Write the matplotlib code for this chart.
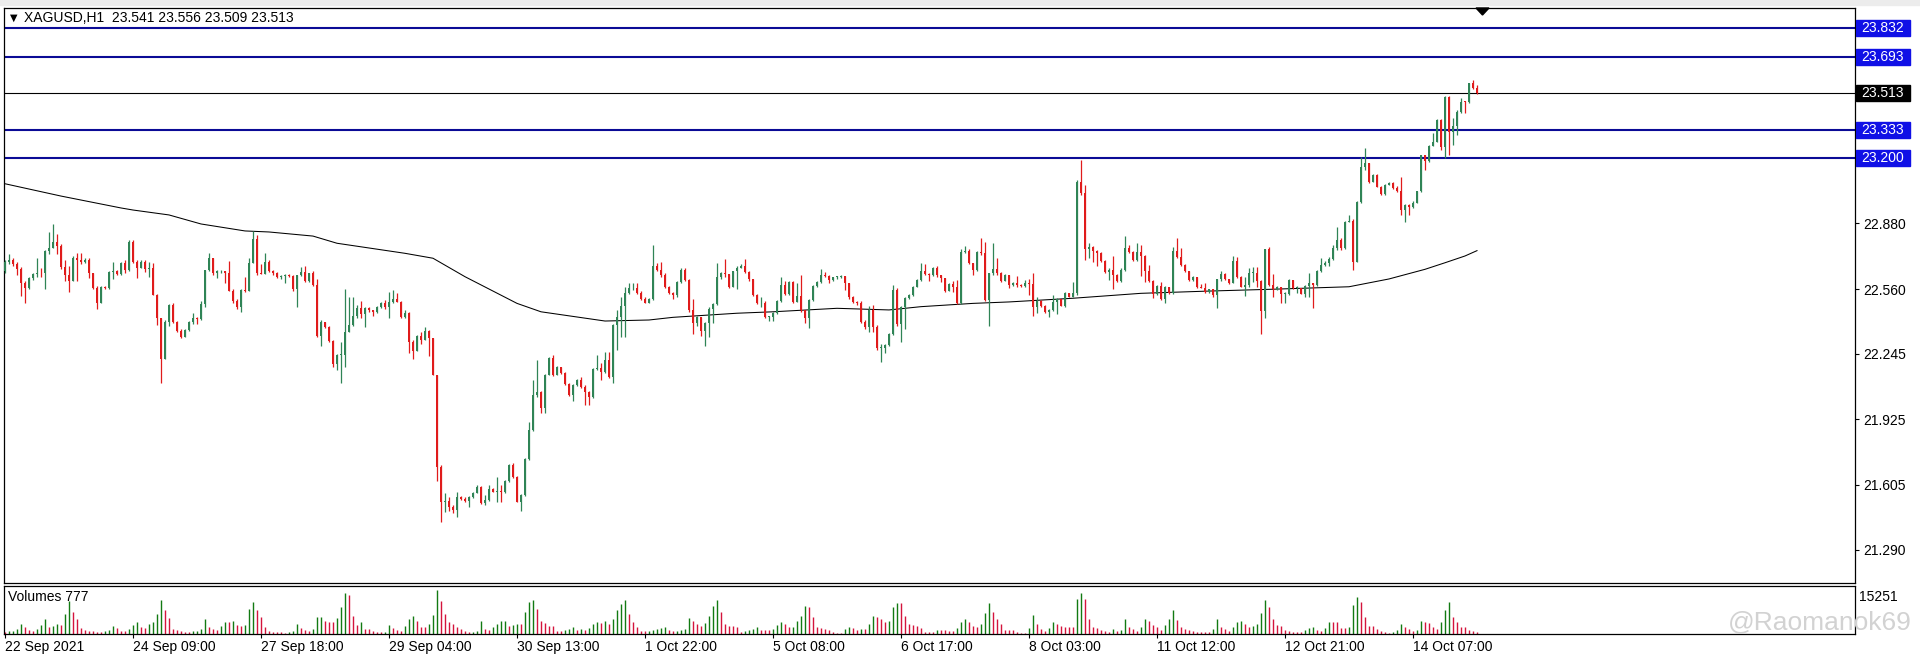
import matplotlib
matplotlib.use("Agg")
import matplotlib.pyplot as plt
from matplotlib.patches import Rectangle, Polygon
import numpy as np

plt.rcParams['font.family'] = ['Liberation Sans', 'DejaVu Sans']

# ---- data (XAGUSD H1) ----
first_open = 22.65

closes = [
    22.69, 22.70, 22.68, 22.656, 22.59, 22.563, 22.612, 22.633, 22.64, 22.636,
    22.747, 22.76, 22.79, 22.772, 22.669, 22.63, 22.60, 22.71, 22.70, 22.69,
    22.70, 22.636, 22.566, 22.493, 22.571, 22.565, 22.644, 22.648, 22.632, 22.685,
    22.653, 22.791, 22.693, 22.66, 22.693, 22.656, 22.66, 22.531, 22.417, 22.219,
    22.401, 22.482, 22.401, 22.357, 22.328, 22.36, 22.40, 22.42, 22.415, 22.487,
    22.653, 22.709, 22.636, 22.646, 22.648, 22.636, 22.551, 22.50, 22.474, 22.555,
    22.55, 22.688, 22.802, 22.64, 22.635, 22.693, 22.65, 22.636, 22.62, 22.624,
    22.628, 22.625, 22.558, 22.628, 22.645, 22.599, 22.638, 22.58, 22.33, 22.40,
    22.374, 22.307, 22.195, 22.24, 22.24, 22.352, 22.385, 22.429, 22.466, 22.44,
    22.466, 22.458, 22.45, 22.47, 22.49, 22.47, 22.498, 22.51, 22.498, 22.425,
    22.445, 22.303, 22.26, 22.331, 22.312, 22.357, 22.32, 22.141, 21.694, 21.524,
    21.525, 21.50, 21.483, 21.548, 21.536, 21.529, 21.545, 21.568, 21.594, 21.516,
    21.532, 21.584, 21.573, 21.578, 21.57, 21.626, 21.702, 21.646, 21.524, 21.556,
    21.73, 21.873, 22.044, 22.06, 21.979, 22.141, 22.226, 22.141, 22.181, 22.149,
    22.097, 22.044, 22.092, 22.117, 22.084, 22.06, 22.035, 22.169, 22.174, 22.157,
    22.214, 22.13, 22.385, 22.422, 22.477, 22.539, 22.563, 22.567, 22.539, 22.51,
    22.494, 22.51, 22.672, 22.653, 22.628, 22.571, 22.54, 22.531, 22.592, 22.653,
    22.604, 22.458, 22.393, 22.422, 22.357, 22.396, 22.463, 22.487, 22.617, 22.64,
    22.631, 22.572, 22.648, 22.664, 22.674, 22.644, 22.607, 22.531, 22.49, 22.494,
    22.425, 22.425, 22.445, 22.50, 22.58, 22.536, 22.596, 22.498, 22.526, 22.458,
    22.417, 22.506, 22.575, 22.596, 22.628, 22.624, 22.604, 22.617, 22.62, 22.623,
    22.59, 22.52, 22.498, 22.49, 22.40, 22.373, 22.46, 22.376, 22.271, 22.271,
    22.287, 22.341, 22.555, 22.39, 22.47, 22.514, 22.53, 22.571, 22.604, 22.649,
    22.633, 22.628, 22.66, 22.628, 22.612, 22.552, 22.584, 22.571, 22.49, 22.742,
    22.745, 22.688, 22.653, 22.742, 22.734, 22.506, 22.636, 22.656, 22.636, 22.60,
    22.628, 22.58, 22.59, 22.58, 22.575, 22.59, 22.583, 22.474, 22.503, 22.477,
    22.45, 22.46, 22.498, 22.51, 22.477, 22.539, 22.523, 22.539, 23.083, 23.03,
    22.753, 22.763, 22.747, 22.737, 22.696, 22.644, 22.653, 22.628, 22.60, 22.653,
    22.762, 22.742, 22.701, 22.742, 22.721, 22.649, 22.601, 22.536, 22.575, 22.51,
    22.571, 22.539, 22.747, 22.718, 22.677, 22.649, 22.604, 22.62, 22.568, 22.566,
    22.547, 22.558, 22.531, 22.607, 22.633, 22.607, 22.59, 22.696, 22.62, 22.571,
    22.58, 22.64, 22.64, 22.60, 22.454, 22.753, 22.58, 22.558, 22.57, 22.536,
    22.536, 22.604, 22.564, 22.564, 22.536, 22.575, 22.587, 22.58, 22.649, 22.677,
    22.688, 22.705, 22.758, 22.799, 22.758, 22.888, 22.893, 22.693, 22.986, 23.156,
    23.172, 23.083, 23.116, 23.059, 23.023, 23.067, 23.075, 23.051, 23.039, 22.945,
    22.969, 22.958, 22.981, 23.039, 23.213, 23.186, 23.257, 23.278, 23.384, 23.254,
    23.497, 23.327, 23.354, 23.424, 23.473, 23.470, 23.562, 23.541, 23.513,
]

highs = [
    22.70, 22.73, 22.71, 22.69, 22.665, 22.60, 22.62, 22.64, 22.71, 22.66,
    22.75, 22.836, 22.875, 22.826, 22.78, 22.70, 22.67, 22.72, 22.735, 22.735,
    22.71, 22.71, 22.64, 22.575, 22.575, 22.575, 22.65, 22.69, 22.655, 22.69,
    22.70, 22.80, 22.80, 22.70, 22.70, 22.70, 22.69, 22.685, 22.535, 22.42,
    22.41, 22.485, 22.49, 22.405, 22.365, 22.365, 22.405, 22.445, 22.425, 22.50,
    22.655, 22.737, 22.71, 22.655, 22.655, 22.65, 22.696, 22.56, 22.51, 22.56,
    22.62, 22.71, 22.844, 22.822, 22.68, 22.734, 22.70, 22.655, 22.645, 22.628,
    22.635, 22.635, 22.63, 22.63, 22.665, 22.67, 22.64, 22.65, 22.61, 22.41,
    22.40, 22.38, 22.31, 22.245, 22.30, 22.559, 22.523, 22.52, 22.48, 22.50,
    22.47, 22.474, 22.46, 22.475, 22.495, 22.507, 22.547, 22.555, 22.539, 22.50,
    22.458, 22.45, 22.31, 22.335, 22.352, 22.373, 22.36, 22.32, 22.141, 21.702,
    21.564, 21.548, 21.508, 21.573, 21.553, 21.545, 21.55, 21.572, 21.605, 21.60,
    21.556, 21.605, 21.59, 21.646, 21.605, 21.63, 21.705, 21.71, 21.65, 21.56,
    21.735, 21.914, 22.117, 22.214, 22.065, 22.145, 22.23, 22.238, 22.185, 22.17,
    22.155, 22.10, 22.095, 22.12, 22.133, 22.09, 22.065, 22.175, 22.238, 22.20,
    22.255, 22.255, 22.39, 22.46, 22.523, 22.57, 22.588, 22.588, 22.588, 22.55,
    22.52, 22.515, 22.775, 22.685, 22.69, 22.64, 22.575, 22.545, 22.60, 22.664,
    22.66, 22.61, 22.51, 22.43, 22.425, 22.40, 22.47, 22.49, 22.688, 22.645,
    22.705, 22.635, 22.65, 22.67, 22.68, 22.705, 22.65, 22.61, 22.535, 22.52,
    22.50, 22.43, 22.45, 22.505, 22.617, 22.60, 22.60, 22.60, 22.59, 22.628,
    22.46, 22.51, 22.58, 22.60, 22.656, 22.645, 22.63, 22.62, 22.625, 22.628,
    22.625, 22.59, 22.525, 22.50, 22.50, 22.41, 22.478, 22.48, 22.385, 22.29,
    22.29, 22.345, 22.58, 22.565, 22.475, 22.52, 22.535, 22.575, 22.61, 22.685,
    22.682, 22.64, 22.665, 22.672, 22.63, 22.615, 22.59, 22.60, 22.605, 22.753,
    22.77, 22.755, 22.672, 22.745, 22.807, 22.791, 22.64, 22.782, 22.71, 22.645,
    22.635, 22.63, 22.595, 22.623, 22.585, 22.604, 22.61, 22.64, 22.523, 22.505,
    22.48, 22.465, 22.53, 22.515, 22.51, 22.547, 22.542, 22.596, 23.09, 23.189,
    23.067, 22.783, 22.77, 22.75, 22.74, 22.70, 22.66, 22.72, 22.635, 22.66,
    22.818, 22.775, 22.745, 22.786, 22.775, 22.725, 22.677, 22.605, 22.58, 22.596,
    22.575, 22.565, 22.767, 22.81, 22.758, 22.68, 22.65, 22.625, 22.62, 22.585,
    22.59, 22.56, 22.556, 22.61, 22.65, 22.64, 22.61, 22.72, 22.714, 22.625,
    22.62, 22.66, 22.666, 22.666, 22.605, 22.755, 22.766, 22.633, 22.575, 22.57,
    22.545, 22.61, 22.605, 22.575, 22.565, 22.58, 22.636, 22.59, 22.655, 22.71,
    22.695, 22.715, 22.775, 22.864, 22.807, 22.89, 22.921, 22.90, 22.99, 23.205,
    23.246, 23.175, 23.12, 23.12, 23.06, 23.07, 23.08, 23.08, 23.06, 23.107,
    22.975, 22.975, 22.99, 23.04, 23.215, 23.215, 23.26, 23.319, 23.39, 23.39,
    23.50, 23.50, 23.392, 23.43, 23.489, 23.478, 23.565, 23.578, 23.556,
]

lows = [
    22.64, 22.68, 22.67, 22.63, 22.525, 22.493, 22.56, 22.605, 22.62, 22.62,
    22.558, 22.73, 22.76, 22.73, 22.657, 22.60, 22.547, 22.60, 22.60, 22.68,
    22.685, 22.615, 22.56, 22.465, 22.49, 22.56, 22.56, 22.607, 22.63, 22.63,
    22.636, 22.65, 22.685, 22.612, 22.66, 22.645, 22.62, 22.53, 22.385, 22.104,
    22.219, 22.38, 22.395, 22.35, 22.32, 22.325, 22.355, 22.39, 22.39, 22.41,
    22.47, 22.65, 22.63, 22.612, 22.64, 22.59, 22.55, 22.49, 22.465, 22.446,
    22.545, 22.55, 22.685, 22.63, 22.635, 22.645, 22.645, 22.63, 22.612, 22.61,
    22.59, 22.62, 22.55, 22.47, 22.625, 22.595, 22.595, 22.575, 22.325, 22.28,
    22.37, 22.30, 22.178, 22.165, 22.10, 22.18, 22.35, 22.38, 22.42, 22.417,
    22.377, 22.45, 22.429, 22.445, 22.466, 22.465, 22.417, 22.49, 22.495, 22.42,
    22.42, 22.25, 22.22, 22.26, 22.292, 22.31, 22.234, 22.14, 21.626, 21.426,
    21.475, 21.48, 21.47, 21.448, 21.53, 21.52, 21.50, 21.54, 21.565, 21.51,
    21.508, 21.527, 21.57, 21.524, 21.524, 21.565, 21.62, 21.64, 21.52, 21.48,
    21.55, 21.725, 21.87, 22.035, 21.954, 21.958, 22.14, 22.135, 22.14, 22.145,
    22.09, 22.04, 22.016, 22.085, 22.08, 21.995, 21.995, 22.03, 22.165, 22.117,
    22.15, 22.125, 22.10, 22.263, 22.327, 22.325, 22.535, 22.555, 22.535, 22.505,
    22.49, 22.49, 22.505, 22.65, 22.62, 22.565, 22.535, 22.51, 22.52, 22.59,
    22.60, 22.45, 22.34, 22.38, 22.33, 22.282, 22.325, 22.393, 22.48, 22.61,
    22.62, 22.565, 22.57, 22.558, 22.66, 22.64, 22.60, 22.525, 22.485, 22.47,
    22.42, 22.405, 22.405, 22.44, 22.495, 22.53, 22.53, 22.49, 22.495, 22.45,
    22.393, 22.368, 22.50, 22.57, 22.59, 22.62, 22.59, 22.60, 22.61, 22.615,
    22.555, 22.51, 22.49, 22.48, 22.395, 22.365, 22.352, 22.35, 22.262, 22.206,
    22.247, 22.28, 22.335, 22.38, 22.30, 22.364, 22.51, 22.525, 22.57, 22.60,
    22.63, 22.60, 22.625, 22.62, 22.596, 22.545, 22.55, 22.546, 22.485, 22.488,
    22.735, 22.68, 22.628, 22.65, 22.725, 22.50, 22.38, 22.63, 22.63, 22.595,
    22.60, 22.563, 22.575, 22.57, 22.57, 22.57, 22.53, 22.43, 22.445, 22.47,
    22.445, 22.425, 22.455, 22.44, 22.475, 22.47, 22.52, 22.52, 22.53, 23.02,
    22.70, 22.71, 22.693, 22.67, 22.69, 22.64, 22.604, 22.558, 22.595, 22.595,
    22.65, 22.735, 22.695, 22.695, 22.623, 22.595, 22.595, 22.515, 22.53, 22.505,
    22.49, 22.535, 22.535, 22.71, 22.67, 22.645, 22.60, 22.60, 22.565, 22.565,
    22.54, 22.54, 22.523, 22.466, 22.60, 22.605, 22.585, 22.59, 22.615, 22.57,
    22.526, 22.57, 22.595, 22.57, 22.341, 22.42, 22.575, 22.52, 22.555, 22.49,
    22.49, 22.53, 22.56, 22.54, 22.535, 22.523, 22.523, 22.466, 22.575, 22.645,
    22.67, 22.673, 22.70, 22.75, 22.75, 22.755, 22.885, 22.653, 22.69, 22.98,
    23.14, 23.075, 23.08, 23.055, 23.02, 23.02, 23.065, 23.045, 23.035, 22.921,
    22.888, 22.92, 22.955, 22.98, 23.035, 23.14, 23.18, 23.255, 23.275, 23.237,
    23.197, 23.213, 23.262, 23.31, 23.42, 23.416, 23.465, 23.535, 23.509,
]

volumes = [
    575, 920, 1150, 1725, 3450, 2300, 1380, 920, 1725, 3220, 5175, 2530, 2875, 3450, 3220, 6900, 11500, 7475, 5175, 2070,
    1380, 1150, 920, 690, 575, 920, 1380, 2875, 2070, 1150, 920, 1725, 3220, 4025, 2530, 2070, 3450, 4025, 6900, 11730,
    8280, 5520, 1725, 1380, 1150, 575, 575, 920, 1150, 1725, 5175, 2300, 1725, 1380, 2875, 4025, 4025, 4370, 3220, 2875,
    3220, 8625, 11155, 8280, 5750, 2300, 1150, 690, 575, 575, 460, 575, 920, 3450, 2070, 1380, 1150, 1725, 5750, 5980,
    4600, 4025, 4025, 5520, 9200, 14030, 13570, 6325, 3220, 4025, 1725, 1725, 920, 575, 575, 690, 3220, 2070, 1380, 920,
    2875, 5175, 6325, 4600, 2530, 2300, 3450, 6670, 15251, 11500, 6900, 4025, 3450, 2530, 1725, 920, 575, 690, 1150, 4600,
    1725, 1380, 2530, 3450, 4370, 4600, 2875, 3220, 3450, 3450, 7475, 10925, 11845, 8625, 4600, 3795, 2875, 2875, 1150, 920,
    1380, 1725, 2300, 1380, 1725, 1380, 2070, 3450, 4025, 3680, 4600, 3450, 5175, 8280, 10350, 11845, 6900, 4025, 2300, 1150,
    920, 1150, 1380, 1725, 2070, 2300, 1380, 920, 1150, 1380, 1725, 5520, 4370, 3450, 2875, 3795, 6325, 9545, 11845, 7475,
    3450, 2875, 2875, 2530,
    575, 920, 1380, 1725, 2300, 1380, 1380, 1380, 1725, 3220, 4025, 3450, 2300, 2530, 4600, 6325, 9775, 9430, 5980, 2530,
    2070, 1725, 1380, 575, 345, 345, 1725, 2530, 2070, 1380, 1725, 1725, 3450, 6325, 5750, 5175, 4025, 4370, 9200, 10580,
    10580, 6325, 3450, 3220, 2875, 2070, 575, 575, 575, 1380, 1380, 1380, 920, 920, 2070, 4025, 5175, 4025, 2875, 2300,
    3450, 7130, 10580, 7475, 5175, 3450, 1380, 1380, 1380, 575, 345, 345, 2070, 6670, 3450, 1725, 920, 2070, 4025, 3450,
    2875, 2530, 2300, 2300, 12075, 14030, 12075, 5175, 2530, 2070, 1380, 1150, 575, 1725, 1150, 1380, 5175, 2300, 1725, 1150,
    2530, 5175, 4370, 3220, 2530, 1380, 3220, 5175, 8280, 4830, 2530, 1725, 1380, 1150, 575, 575, 575, 575, 1725, 5175,
    2530, 1725, 1150, 2300, 4025, 4600, 3450, 2530, 2875, 3450, 7130, 11730, 9430, 5175, 3220, 2875, 1380, 920, 575, 575,
    575, 1380, 2070, 2300, 1380, 920, 2070, 4025, 4025, 4025, 2070, 2070, 2300, 10120, 12880, 11155, 5980, 2875, 2875, 1725,
    920, 575, 345, 575, 1380, 3450, 2530, 1725, 920, 1380, 4600, 4025, 3680, 2530, 1725, 4025, 8280, 10925, 5750, 4025,
    2530, 2300, 1380, 920, 777,
]

# moving average line (bar index, price)
ma_idx = [0, 14, 29, 32, 41, 49, 60, 66, 77, 83, 100, 107, 115, 128, 134, 150, 161, 167,
          183, 192, 208, 221, 229, 242, 251, 267, 284, 301, 317, 336, 346, 355, 360, 365, 368]
ma_val = [23.073, 23.013, 22.955, 22.945, 22.921, 22.877, 22.843, 22.838, 22.818, 22.783,
          22.734, 22.710, 22.620, 22.490, 22.449, 22.404, 22.409, 22.422, 22.442, 22.449,
          22.466, 22.458, 22.474, 22.490, 22.497, 22.515, 22.539, 22.550, 22.559, 22.571,
          22.609, 22.656, 22.688, 22.721, 22.747]

levels = [23.832, 23.693, 23.333, 23.200]
price_ticks = [22.880, 22.560, 22.245, 21.925, 21.605, 21.290]
time_idx = [0, 32, 64, 96, 128, 160, 192, 224, 256, 288, 320, 352]
time_labels = ["22 Sep 2021", "24 Sep 09:00", "27 Sep 18:00", "29 Sep 04:00", "30 Sep 13:00",
               "1 Oct 22:00", "5 Oct 08:00", "6 Oct 17:00", "8 Oct 03:00", "11 Oct 12:00",
               "12 Oct 21:00", "14 Oct 07:00"]

# ---- figure ----
W, H = 1920, 660
fig = plt.figure(figsize=(19.2, 6.6), dpi=100)
fig.patch.set_facecolor("white")

def fy(px):
    return 1 - px / H

bull = "#2f8456"
bear = "#e01b1b"
lvl_col = "#0b0b96"
box_col = "#1010e6"

ax = fig.add_axes([4 / W, fy(583), (1855 - 4) / W, (583 - 8) / H])
axv = fig.add_axes([4 / W, fy(634), (1855 - 4) / W, (634 - 586) / H])

c = np.array(closes)
o = np.concatenate([[first_open], c[:-1]])
hi = np.maximum(np.array(highs), np.maximum(o, c))
lo = np.minimum(np.array(lows), np.minimum(o, c))
x = np.arange(len(c))
up = c >= o
cols = np.where(up, bull, bear)

ax.vlines(x, lo, hi, colors=cols, linewidth=0.9, zorder=3)
body_h = np.maximum(np.abs(c - o), 0.004)
ax.bar(x, body_h, bottom=np.minimum(o, c), width=0.62, color=cols, linewidth=0, zorder=4)

ax.plot(ma_idx, ma_val, color="black", linewidth=0.75, zorder=2)

for lv in levels:
    ax.axhline(lv, color=lvl_col, linewidth=1.5, zorder=1)
ax.axhline(c[-1], color="black", linewidth=0.8, zorder=1)

ax.set_xlim(-0.25, 462.5)
ax.set_ylim(21.1273, 23.9295)
ax.set_xticks([])
ax.yaxis.tick_right()
ax.set_yticks(price_ticks)
ax.set_yticklabels(["%.3f" % t for t in price_ticks])
ax.tick_params(axis="y", length=3, width=0.8, pad=3, labelsize=10, colors="black")
for s in ax.spines.values():
    s.set_linewidth(0.9)

# volumes: green when rising, red when falling
v = np.array(volumes)
vcols = ["#127a12" if i > 0 and v[i] > v[i - 1] else "#d4143c" for i in range(len(v))]
axv.vlines(np.arange(len(v)), 0, v, colors=vcols, linewidth=1.0)
axv.set_xlim(-0.25, 462.5)
axv.set_ylim(0, 16627)
axv.set_yticks([])
axv.set_xticks(time_idx)
axv.set_xticklabels(time_labels)
for lab in axv.get_xticklabels():
    lab.set_horizontalalignment("left")
axv.tick_params(axis="x", length=3, width=0.8, pad=1, labelsize=10)
for s in axv.spines.values():
    s.set_linewidth(0.9)

# price boxes on the right scale
axr = fig.add_axes([1856 / W, fy(583), 64 / W, (583 - 8) / H])
axr.set_ylim(ax.get_ylim())
axr.set_xlim(0, 64)
axr.axis("off")
bh = 16 / 205.2
for lv in levels:
    axr.add_patch(Rectangle((0, lv - bh / 2), 54, bh, color=box_col, zorder=2))
    axr.text(27, lv, "%.3f" % lv, color="white", fontsize=10, ha="center", va="center", zorder=3)
axr.add_patch(Rectangle((0, c[-1] - bh / 2), 54, bh, color="black", zorder=2))
axr.text(27, c[-1], "%.3f" % c[-1], color="white", fontsize=10, ha="center", va="center", zorder=3)

# texts
fig.text(10 / W, fy(18), "\u25bc", fontsize=7, va="center", family=["DejaVu Sans"])
fig.text(24 / W, fy(18), "XAGUSD,H1  %.3f %.3f %.3f %.3f" % (o[-1], hi[-1], lo[-1], c[-1]),
         fontsize=10, va="center")
fig.text(8 / W, fy(597), "Volumes %d" % volumes[-1], fontsize=10, va="center")
fig.text(1859 / W, fy(597), "%d" % max(volumes), fontsize=10, va="center")
fig.text(1728 / W, fy(622), "@Raomanok69", fontsize=19, color="#d2d2d2", va="center")

# top strip and chart-shift marker
fig.add_artist(Rectangle((0, fy(5)), 1, 5 / H, transform=fig.transFigure, color="#ececec", zorder=0))
fig.add_artist(Polygon([[1476 / W, fy(8)], [1489 / W, fy(8)], [1482.5 / W, fy(15)]],
                       closed=True, transform=fig.transFigure, color="black"))

fig.savefig("out.png", dpi=100)
